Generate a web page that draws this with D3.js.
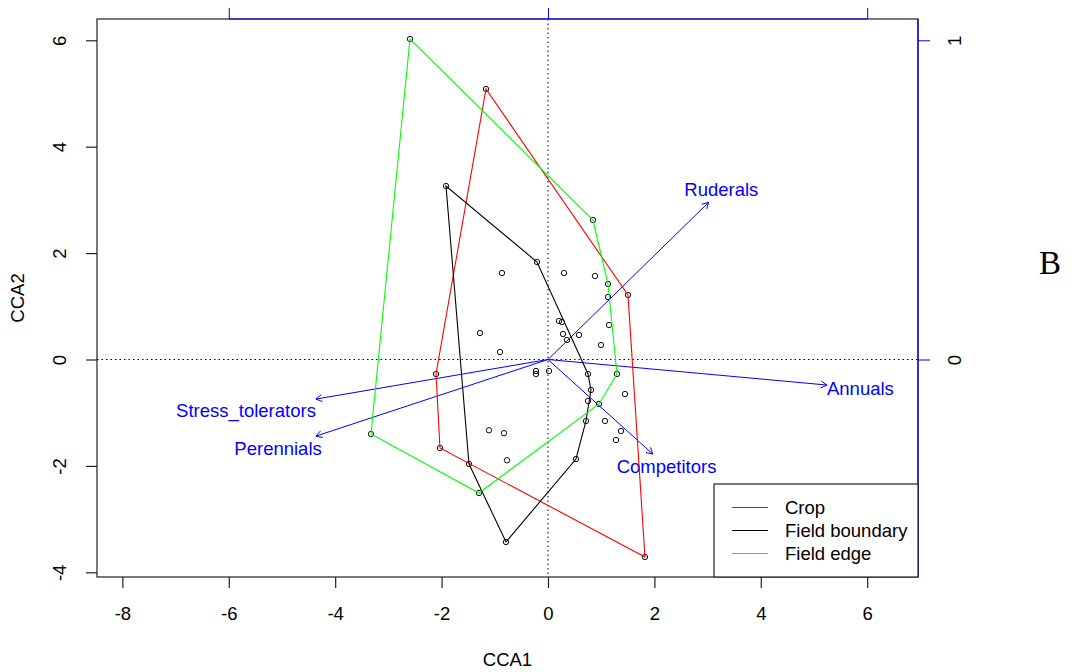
<!DOCTYPE html>
<html>
<head>
<meta charset="utf-8">
<script src="https://cdn.jsdelivr.net/npm/d3@7"></script>
<style>
  body { margin: 0; background: #fff; }
  svg { display: block; }
  text { font-family: "Liberation Sans", Arial, Helvetica, sans-serif; }
  text.panel { font-family: "Liberation Serif", "Times New Roman", serif; }
</style>
</head>
<body>
<svg id="chart" width="1080" height="672"></svg>
<script>
// Site scores (CCA1, CCA2) for each habitat group
const cropSites = [
  [-1.165, 5.084], [1.504, 1.212], [1.823, -3.712], [-2.030, -1.664], [-2.105, -0.273],
  [0.301, 1.626], [0.883, 1.570], [1.128, 1.175], [1.147, 0.648], [0.996, 0.273],
  [0.207, 0.724], [0.263, 0.705], [0.282, 0.479], [0.583, 0.461], [0.357, 0.367],
  [1.447, -0.649], [1.071, -1.156], [1.372, -1.344], [1.278, -1.513]
];
const boundarySites = [
  [-1.917, 3.261], [-0.207, 1.833], [0.752, -0.273], [0.808, -0.573], [0.526, -1.870],
  [-0.789, -3.430], [-1.485, -1.964], [0.752, -0.780], [0.714, -1.156],
  [-0.865, 1.626], [-1.278, 0.498], [-0.902, 0.141], [-0.226, -0.216], [-0.226, -0.273],
  [0.019, -0.216], [-1.109, -1.330], [-0.827, -1.386], [-0.771, -1.894]
];
const edgeSites = [
  [-2.594, 6.024], [0.846, 2.622], [1.128, 1.419], [1.297, -0.273], [0.959, -0.836],
  [-1.297, -2.510], [-3.327, -1.400]
];
const groupNames = ["Crop", "Field boundary", "Field edge"];
const groupColors = ["#ff0000", "#000000", "#00ff00"];

// Biplot scores of the trait variables
const traitNames = ["Ruderals", "Annuals", "Competitors", "Stress_tolerators", "Perennials"];
const traitCCA1 = [0.503, 0.874, 0.328, -0.727, -0.727];
const traitCCA2 = [0.492, -0.080, -0.296, -0.124, -0.240];
const arrowMultiplier = 6;

// Axis ticks
const xTicks = [-8, -6, -4, -2, 0, 2, 4, 6];
const yTicks = [-4, -2, 0, 2, 4, 6];
const bpTicksTop = [-1, 0, 1];
const bpTicksRight = [0, 1];

(function draw() {
  const svg = d3.select("#chart");
  const pL = 97, pR = 918, pT = 19, pB = 577;
  const x = d3.scaleLinear().domain([-8.477, 6.955]).range([pL, pR]);
  const y = d3.scaleLinear().domain([-4.088, 6.4]).range([pB, pT]);
  const xb = d3.scaleLinear().domain(x.domain().map(d => d / arrowMultiplier)).range([pL, pR]);
  const yb = d3.scaleLinear().domain(y.domain().map(d => d / arrowMultiplier)).range([pB, pT]);

  const fontSize = "18.5px";
  const blue = "#0000ff";

  // Reference lines through the origin
  svg.append("line").attr("x1", x(0)).attr("x2", x(0)).attr("y1", pT).attr("y2", pB)
    .attr("stroke", "#000").attr("stroke-width", 1).attr("stroke-dasharray", "1.5,3");
  svg.append("line").attr("x1", pL).attr("x2", pR).attr("y1", y(0)).attr("y2", y(0))
    .attr("stroke", "#000").attr("stroke-width", 1).attr("stroke-dasharray", "1.5,3");

  // Site points
  const allSites = cropSites.concat(boundarySites, edgeSites);
  svg.append("g").selectAll("circle").data(allSites).join("circle")
    .attr("cx", d => x(d[0])).attr("cy", d => y(d[1])).attr("r", 2.7)
    .attr("fill", "none").attr("stroke", "#111").attr("stroke-width", 1);

  // Biplot arrows
  const arrowG = svg.append("g");
  traitNames.forEach((name, i) => {
    const x0 = xb(0), y0 = yb(0);
    const x1 = xb(traitCCA1[i]), y1 = yb(traitCCA2[i]);
    const ang = Math.atan2(y1 - y0, x1 - x0);
    arrowG.append("line").attr("x1", x0).attr("y1", y0).attr("x2", x1).attr("y2", y1)
      .attr("stroke", blue).attr("stroke-width", 1);
    const head = 7, spread = Math.PI / 6;
    const hp = [
      [x1 - head * Math.cos(ang - spread), y1 - head * Math.sin(ang - spread)],
      [x1, y1],
      [x1 - head * Math.cos(ang + spread), y1 - head * Math.sin(ang + spread)]
    ];
    arrowG.append("path").attr("d", d3.line()(hp))
      .attr("fill", "none").attr("stroke", blue).attr("stroke-width", 1);
    // label sits just beyond the arrow head, pushed along the arrow direction
    const t = arrowG.append("text").text(name)
      .attr("font-size", fontSize).attr("fill", blue)
      .attr("text-anchor", "middle").attr("dy", "0.35em");
    const w = t.node().getComputedTextLength();
    const hh = 12.5;
    const c = Math.abs(Math.cos(ang)), s = Math.abs(Math.sin(ang));
    const off = Math.min(c > 1e-6 ? (w / 2) / c : Infinity, s > 1e-6 ? hh / s : Infinity);
    t.attr("x", x1 + off * Math.cos(ang)).attr("y", y1 + off * Math.sin(ang));
  });

  // Convex hulls of each group
  const hullG = svg.append("g");
  [cropSites, boundarySites, edgeSites].forEach((sites, i) => {
    const hull = d3.polygonHull(sites.map(d => [x(d[0]), y(d[1])]));
    hullG.append("path").attr("d", "M" + hull.join("L") + "Z")
      .attr("fill", "none").attr("stroke", groupColors[i]).attr("stroke-width", 1.1);
  });

  // Plot frame
  svg.append("rect").attr("x", pL).attr("y", pT).attr("width", pR - pL).attr("height", pB - pT)
    .attr("fill", "none").attr("stroke", "#222").attr("stroke-width", 1.2);

  // Bottom axis
  const gx = svg.append("g").attr("transform", `translate(0,${pB})`)
    .call(d3.axisBottom(x).tickValues(xTicks).tickSize(11).tickFormat(d => String(d)));
  gx.select(".domain").remove();
  gx.selectAll("line").attr("stroke", "#222").attr("stroke-width", 1.2);
  gx.selectAll("text").attr("font-size", fontSize).attr("fill", "#000")
    .attr("y", 37).attr("dy", "0.35em");

  // Left axis
  const gy = svg.append("g").attr("transform", `translate(${pL},0)`)
    .call(d3.axisLeft(y).tickValues(yTicks).tickSize(11).tickFormat(d => String(d)));
  gy.select(".domain").remove();
  gy.selectAll("line").attr("stroke", "#222").attr("stroke-width", 1.2);
  gy.selectAll("text").attr("font-size", fontSize).attr("fill", "#000")
    .attr("x", 0).attr("dy", "0.35em").attr("text-anchor", "middle")
    .attr("transform", "translate(-37,0) rotate(-90)");

  // Top biplot axis
  const gt = svg.append("g").attr("transform", `translate(0,${pT})`)
    .call(d3.axisTop(xb).tickValues(bpTicksTop).tickSize(11).tickFormat(""));
  gt.select(".domain").remove();
  gt.selectAll("line").attr("stroke", blue);
  gt.append("line").attr("x1", xb(bpTicksTop[0])).attr("x2", xb(bpTicksTop[bpTicksTop.length - 1]))
    .attr("y1", 0).attr("y2", 0).attr("stroke", blue).attr("stroke-width", 1.2);

  // Right biplot axis
  const gr = svg.append("g").attr("transform", `translate(${pR},0)`)
    .call(d3.axisRight(yb).tickValues(bpTicksRight).tickSize(12).tickFormat(d => String(d)));
  gr.select(".domain").remove();
  gr.selectAll("line").attr("stroke", blue);
  gr.append("line").attr("x1", 0).attr("x2", 0).attr("y1", pT).attr("y2", pB)
    .attr("stroke", blue).attr("stroke-width", 1.2);
  gr.selectAll("text").attr("font-size", fontSize).attr("fill", "#000")
    .attr("x", 0).attr("dy", "0.35em").attr("text-anchor", "middle")
    .attr("transform", "translate(37,0) rotate(-90)");

  // Axis titles
  svg.append("text").text("CCA1").attr("x", (pL + pR) / 2).attr("y", 660).attr("dy", "0.35em")
    .attr("text-anchor", "middle").attr("font-size", fontSize).attr("fill", "#000");
  svg.append("text").text("CCA2").attr("text-anchor", "middle").attr("dy", "0.35em")
    .attr("transform", `translate(18,${(pT + pB) / 2}) rotate(-90)`)
    .attr("font-size", fontSize).attr("fill", "#000");

  // Legend
  const lg = svg.append("g");
  lg.append("rect").attr("x", 714).attr("y", 484).attr("width", pR - 714).attr("height", pB - 484)
    .attr("fill", "#fff").attr("stroke", "#222").attr("stroke-width", 1.2);
  groupNames.forEach((name, i) => {
    const ly = 507.5 + i * 23;
    lg.append("line").attr("x1", 732).attr("x2", 768).attr("y1", ly).attr("y2", ly)
      .attr("stroke", groupColors[i]).attr("stroke-width", 1);
    lg.append("text").text(name).attr("x", 785).attr("y", ly).attr("dy", "0.35em")
      .attr("font-size", fontSize).attr("fill", "#000");
  });

  // Panel letter
  svg.append("text").attr("class", "panel").text("B").attr("x", 1050).attr("y", 262).attr("dy", "0.35em")
    .attr("text-anchor", "middle").attr("font-size", "33px").attr("fill", "#000");
})();
</script>
</body>
</html>
